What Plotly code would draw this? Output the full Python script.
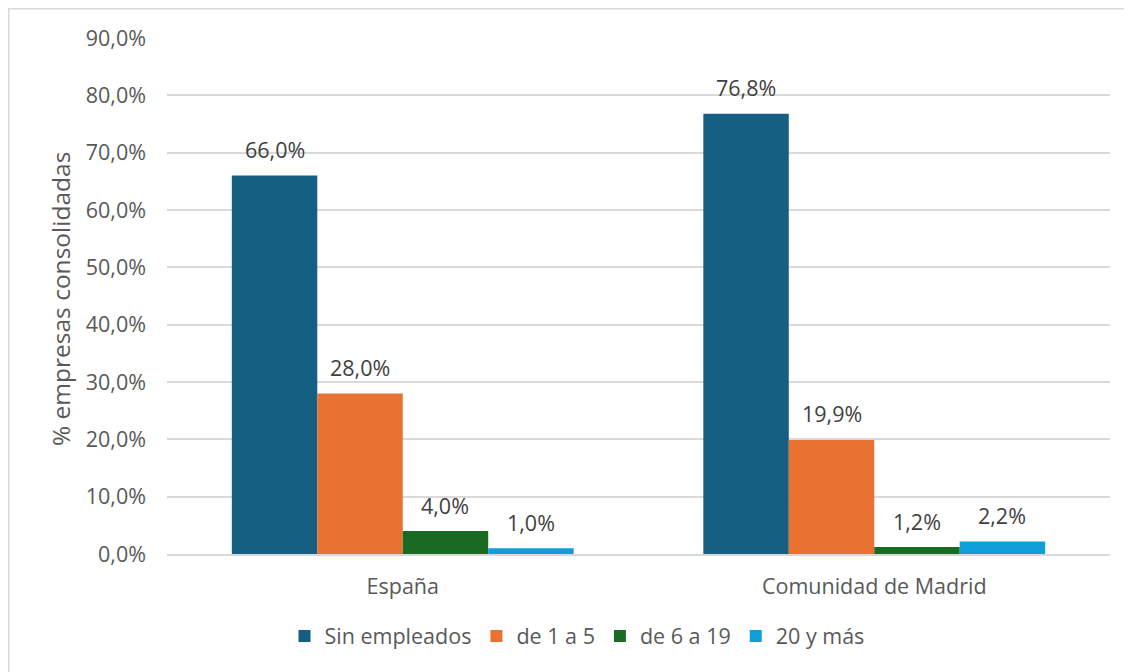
import plotly.graph_objects as go

categories = ["España", "Comunidad de Madrid"]
series_names = ["Sin empleados", "de 1 a 5", "de 6 a 19", "20 y más"]
sin_empleados = [66.0, 76.8]
de_1_a_5 = [28.0, 19.9]
de_6_a_19 = [4.0, 1.2]
veinte_y_mas = [1.0, 2.2]
tick_values = [0, 10, 20, 30, 40, 50, 60, 70, 80, 90]
tick_labels = ["0,0%", "10,0%", "20,0%", "30,0%", "40,0%", "50,0%", "60,0%", "70,0%", "80,0%", "90,0%"]
y_title = "% empresas consolidadas"

colors = ["#156082", "#E97132", "#196B24", "#0F9ED5"]
series_values = [sin_empleados, de_1_a_5, de_6_a_19, veinte_y_mas]

FONT = "Open Sans"
FS = 21.5
W, H = 1124, 664
L, R, T, B = 159, 22, 30, 118
plot_w = W - L - R
plot_h = H - T - B
bottom = H - B
bargap = 0.275
cat_w = plot_w / len(categories)
bar_w = cat_w * (1 - bargap) / len(series_names)

def fmt(v):
    return f"{v:.1f}%".replace(".", ",")

fig = go.Figure()
for name, vals, col in zip(series_names, series_values, colors):
    fig.add_trace(go.Bar(name=name, x=categories, y=vals, marker=dict(color=col, line=dict(width=0))))

annotations = []
for i, vals in enumerate(series_values):
    for cat, v in zip(categories, vals):
        annotations.append(dict(
            x=cat, y=v, xref="x", yref="y", text=fmt(v), showarrow=False,
            xshift=(i - 1.5) * bar_w, yshift=26, yanchor="middle",
            font=dict(family=FONT, size=FS, color="#404040")))

annotations.append(dict(
    x=(52 - L) / plot_w, y=(bottom - 291) / plot_h, xref="paper", yref="paper", text=y_title,
    textangle=-90, showarrow=False, xanchor="center", yanchor="middle",
    font=dict(family=FONT, size=24.5, color="#595959")))

fig.update_layout(
    width=W, height=H,
    margin=dict(l=L, r=R, t=T, b=B),
    paper_bgcolor="white", plot_bgcolor="white",
    barmode="group", bargap=bargap, bargroupgap=0,
    font=dict(family=FONT, size=FS, color="#595959"),
    showlegend=True,
    legend=dict(orientation="h", x=(569 - L) / plot_w, xanchor="center",
                y=-(628 - bottom) / plot_h, yanchor="middle",
                font=dict(family=FONT, size=FS, color="#595959"),
                itemwidth=30, traceorder="normal"),
    annotations=annotations,
    shapes=[dict(type="rect", xref="paper", yref="paper",
                 x0=(0.75 - L) / plot_w, x1=(W + 20 - L) / plot_w,
                 y0=-(H + 20 - bottom) / plot_h, y1=(bottom - 0.75) / plot_h,
                 line=dict(color="#D9D9D9", width=1.5), layer="below")],
)
fig.update_xaxes(showgrid=False, showline=True, linecolor="#D9D9D9", linewidth=1.5,
                 ticks="", ticklabelstandoff=12,
                 tickfont=dict(family=FONT, size=FS, color="#595959"))
fig.update_yaxes(range=[0, 90], tickvals=tick_values, ticktext=tick_labels,
                 showgrid=True, gridcolor="#D9D9D9", gridwidth=1.5, zeroline=False,
                 showline=False, ticks="", ticklabelstandoff=20,
                 tickfont=dict(family=FONT, size=FS, color="#595959"))

fig.write_html("out.html")
